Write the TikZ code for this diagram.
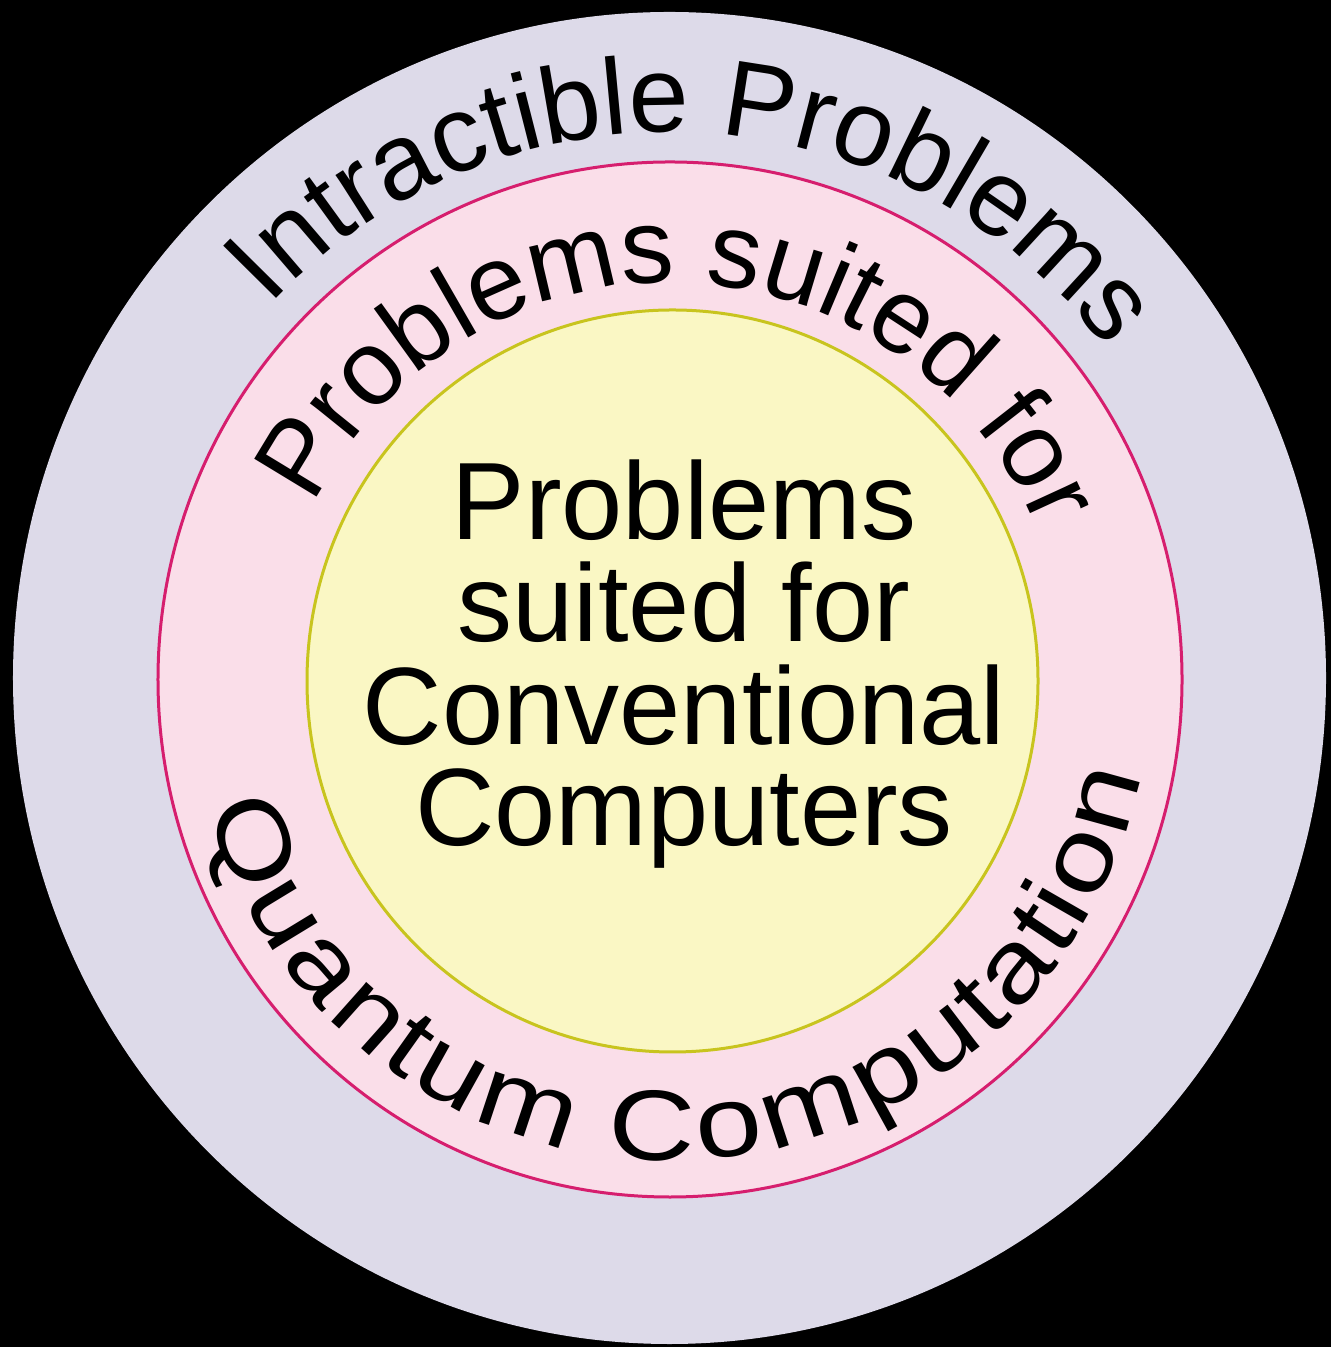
\documentclass[tikz,border=0pt]{standalone}
\usepackage{fontspec}
\setmainfont{Liberation Sans}
\newfontfamily\widesans[FakeStretch=1.2]{Liberation Sans}
\usetikzlibrary{decorations.text}
\definecolor{outerfill}{RGB}{221,218,233}
\definecolor{pinkfill}{RGB}{250,222,233}
\definecolor{pinkline}{RGB}{214,30,110}
\definecolor{yellowfill}{RGB}{250,247,196}
\definecolor{yellowline}{RGB}{200,196,30}
\newcommand\ringfont{\fontsize{108bp}{108bp}\selectfont}
\newcommand\midfont{\fontsize{106bp}{106bp}\selectfont}
\newcommand\quantfont{\widesans\fontsize{100bp}{100bp}\selectfont}
\newcommand\corefont{\fontsize{110bp}{102bp}\selectfont}
\begin{document}
\begin{tikzpicture}[x=1bp,y=1bp,
  ringtext/.style={decorate, decoration={text along path, text align=center, text={#1}}},
  coreline/.style={anchor=base, font=\corefont, inner sep=0pt}]
\fill[black] (0,0) rectangle (1331,1347);
\useasboundingbox (0,0) rectangle (1331,1347);
\coordinate (c) at (670,667);
\fill[outerfill] (669.5,669) ellipse [x radius=656.5bp, y radius=666bp];
\filldraw[fill=pinkfill, draw=pinkline, line width=3bp] (670,667.5) ellipse [x radius=512bp, y radius=517.5bp];
\filldraw[fill=yellowfill, draw=yellowline, line width=3bp] (672.5,666) ellipse [x radius=365.5bp, y radius=371bp];
\path[ringtext={|\ringfont|Intractible Problems}] ([shift={(177:548bp)}]c) arc[start angle=177, end angle=-3, radius=548bp];
\path[ringtext={|\midfont|Problems suited for}] ([shift={(178:397bp)}]c) arc[start angle=178, end angle=-2, radius=397bp];
\path[ringtext={|\quantfont|Quantum Computation}, decoration={raise=-30bp}] ([shift={(182:450bp)}]c) arc[start angle=182, end angle=362, radius=450bp];
\node[coreline] (l1) at (684,807) {Problems};
\node[coreline] (l2) at (684,705) {suited for};
\node[coreline] (l3) at (684,602) {Conventional};
\node[coreline] (l4) at (684,501) {Computers};
\end{tikzpicture}
\end{document}
